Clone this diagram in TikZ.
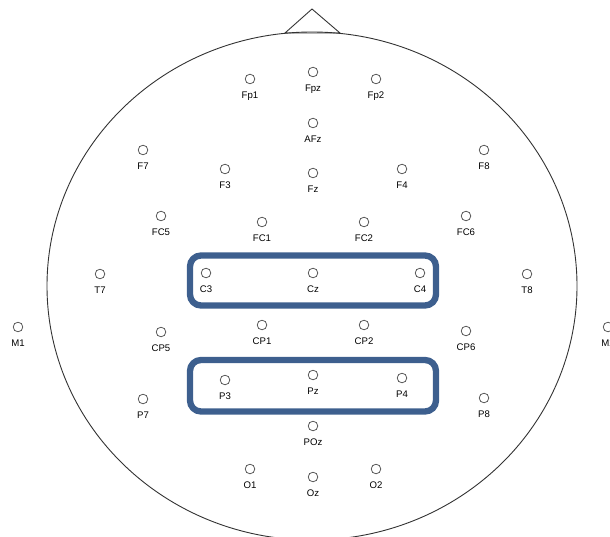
\documentclass[tikz,border=0pt]{standalone}
\usepackage{fontspec}
\setmainfont{Liberation Sans}
\usetikzlibrary{positioning}

\definecolor{boxblue}{HTML}{3D5F8E}

\tikzset{
  electrode/.style={circle, draw=black!70, line width=0.75pt, minimum size=9.6pt, inner sep=0pt},
  elabel/.style={anchor=base, inner sep=0pt, font=\fontsize{9.6}{10}\selectfont, text=black},
  region/.style={draw=boxblue, line width=6.3pt, rounded corners=11pt}
}

\begin{document}
\begin{tikzpicture}[x=1pt, y=-1pt]

  % page = 610 x 537 (image pixels, y down)
  \clip (0,0) rectangle (610,537);

  % head outline
  \def\rx{265}
  \def\ry{254}
  \coordinate (H) at (312,286);
  \draw[black!80, line width=0.9pt] (H) ellipse [x radius=\rx, y radius=\ry];

  % nose
  \coordinate (noseL) at (285,33);
  \coordinate (noseT) at (312,9);
  \coordinate (noseR) at (340,33);
  \draw[black!80, line width=0.9pt, line join=miter] (noseL) -- (noseT) -- (noseR) -- cycle;

  % highlighted regions
  \draw[region] (190,255.5) rectangle (436,305.5);
  \draw[region] (190,360) rectangle (436,411.5);

  % electrodes: name/x/y
  \foreach \n/\x/\y in {
      Fp1/250/79, Fpz/313/72, Fp2/376/79,
      AFz/313/123,
      F7/143/150, F3/225/169, Fz/313/173, F4/402/169, F8/484/150,
      FC5/161/216, FC1/262/222, FC2/364/222, FC6/466/216,
      T7/100/274, C3/206/273, Cz/313/273, C4/420/273, T8/527/274,
      M1/18/327, M2/608/327,
      CP5/161/332, CP1/262/325, CP2/364/325, CP6/466/331,
      P7/143/399, P3/225/380, Pz/313/375, P4/402/378, P8/484/398,
      POz/313/426,
      O1/250/469, Oz/313/477, O2/376/469}
  {
    \node[electrode] (\n) at (\x,\y) {};
    \node[elabel] (\n-lbl) at ([yshift=-14.3pt]\n.south) {\n};
  }

\end{tikzpicture}
\end{document}
